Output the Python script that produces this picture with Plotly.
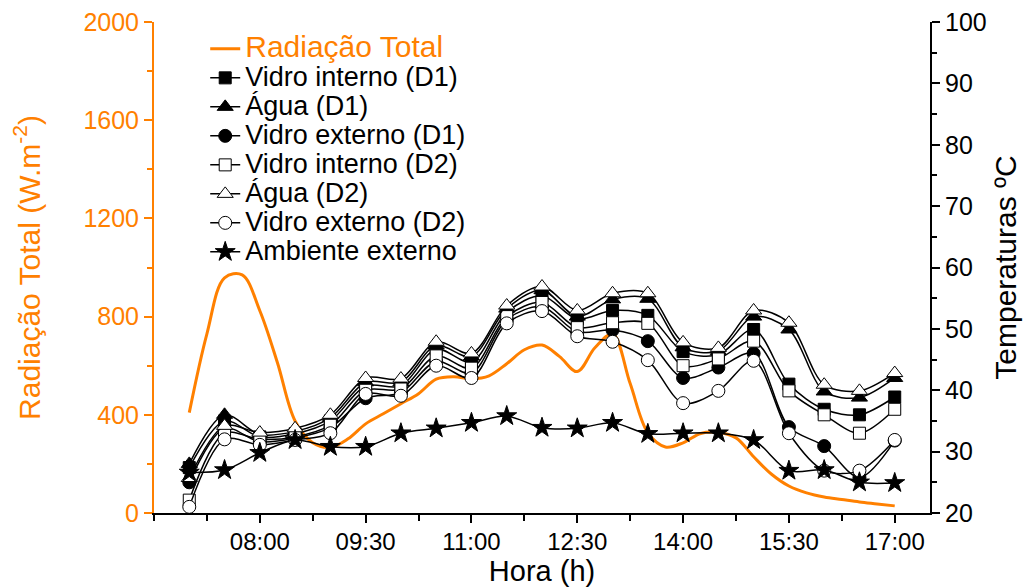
import plotly.graph_objects as go

# ---------------- data ----------------
temp_times = ["07:00", "07:30", "08:00", "08:30", "09:00", "09:30", "10:00", "10:30",
              "11:00", "11:30", "12:00", "12:30", "13:00", "13:30", "14:00", "14:30",
              "15:00", "15:30", "16:00", "16:30", "17:00"]

vidro_interno_d1 = [27.4, 35.0, 32.4, 32.9, 35.0, 40.7, 40.7, 46.7, 44.6, 52.7, 55.4,
                    51.6, 53.0, 52.2, 46.3, 45.8, 49.9, 41.0, 36.9, 36.0, 38.9]
agua_d1 = [28.0, 36.0, 32.8, 33.3, 35.5, 41.3, 41.3, 47.3, 45.5, 53.3, 56.3,
           52.0, 54.8, 54.9, 47.0, 46.4, 52.0, 49.9, 39.8, 38.8, 42.0]
vidro_externo_d1 = [25.0, 33.8, 31.6, 32.2, 33.9, 38.7, 39.6, 44.7, 42.8, 51.5, 53.6,
                    49.5, 49.8, 48.0, 42.0, 43.7, 46.0, 34.0, 30.9, 25.8, 31.8]
vidro_interno_d2 = [22.1, 33.0, 32.0, 32.4, 34.3, 40.0, 40.2, 45.6, 43.6, 52.0, 54.3,
                    50.2, 51.0, 50.9, 44.0, 45.1, 48.0, 39.9, 36.0, 33.0, 36.9]
agua_d2 = [25.7, 34.2, 33.1, 33.8, 36.0, 42.0, 41.9, 47.9, 46.0, 53.8, 56.9,
           53.0, 55.8, 55.8, 47.8, 46.9, 53.0, 51.0, 40.9, 39.9, 42.8]
vidro_externo_d2 = [21.0, 32.0, 31.1, 31.9, 33.0, 39.4, 39.1, 44.0, 42.0, 50.9, 52.9,
                    48.8, 47.9, 44.9, 37.9, 39.9, 44.8, 33.0, 26.9, 26.9, 31.9]
ambiente_externo = [26.6, 27.0, 29.8, 31.9, 30.8, 30.8, 33.0, 33.8, 34.7, 35.8, 33.9,
                    33.8, 34.7, 32.9, 33.0, 33.0, 31.9, 26.9, 27.0, 25.0, 24.9]

rad_times = ["07:00", "07:15", "07:30", "07:45", "08:00", "08:15", "08:30", "08:45",
             "09:00", "09:15", "09:30", "09:45", "10:00", "10:15", "10:30", "10:45",
             "11:00", "11:15", "11:30", "11:45", "12:00", "12:15", "12:30", "12:45",
             "13:00", "13:15", "13:30", "13:45", "14:00", "14:15", "14:30", "14:45",
             "15:00", "15:15", "15:30", "15:45", "16:00", "16:15", "16:30", "16:45",
             "17:00"]
radiacao_total = [409, 730, 958, 970, 824, 612, 375, 286, 267, 302, 363, 404, 445, 486,
                  545, 555, 547, 559, 608, 665, 684, 637, 576, 673, 729, 527, 327, 269,
                  286, 324, 328, 306, 229, 159, 110, 82, 65, 55, 45, 37, 29]

x_tick_labels = ["08:00", "09:30", "11:00", "12:30", "14:00", "15:30", "17:00"]


def to_hours(t):
    h, m = t.split(":")
    return int(h) + int(m) / 60.0


tx = [to_hours(t) for t in temp_times]
rx = [to_hours(t) for t in rad_times]
tick_hours = [to_hours(t) for t in x_tick_labels]

ORANGE = "#FF8000"
FONT = "Liberation Sans, Arial, sans-serif"


def big(txt, size=27, color=None):
    style = "font-size:%dpx" % size
    if color:
        style += ";color:%s" % color
    return '<span style="%s">%s</span>' % (style, txt)


fig = go.Figure()

fig.add_trace(go.Scatter(
    x=rx, y=radiacao_total, mode="lines", yaxis="y", xaxis="x",
    name=big("Radiação Total", 30, ORANGE),
    line=dict(color=ORANGE, width=3, shape="spline", smoothing=1.0)))

series = [
    ("Vidro interno (D1)", vidro_interno_d1, "square", "black", 12),
    ("Água (D1)", agua_d1, "triangle-up", "black", 14),
    ("Vidro externo (D1)", vidro_externo_d1, "circle", "black", 13),
    ("Vidro interno (D2)", vidro_interno_d2, "square", "white", 12),
    ("Água (D2)", agua_d2, "triangle-up", "white", 14),
    ("Vidro externo (D2)", vidro_externo_d2, "circle", "white", 13),
    ("Ambiente externo", ambiente_externo, "star", "black", 15),
]
for name, vals, sym, fill, size in series:
    fig.add_trace(go.Scatter(
        x=tx, y=vals, mode="lines+markers", yaxis="y2", xaxis="x", name=big(name),
        line=dict(color="black", width=1.5, shape="spline", smoothing=0.9),
        marker=dict(symbol=sym, size=size, color=fill,
                    line=dict(color="black", width=1))))

# page body adds an 8px offset; the figure is sized so the plot frame lands where
# the reference has it
fig.update_layout(
    width=1025, height=579,
    margin=dict(l=146, r=103, t=14, b=74, autoexpand=False),
    paper_bgcolor="white", plot_bgcolor="white",
    font=dict(family=FONT, size=25, color="black"),
    showlegend=True,
    legend=dict(x=0.066, y=0.985, xanchor="left", yanchor="top",
                bgcolor="rgba(0,0,0,0)", font=dict(size=20, family=FONT),
                tracegroupgap=0, itemwidth=30),
    xaxis=dict(
        range=[6.5, 17.5], tickmode="array",
        tickvals=tick_hours, ticktext=x_tick_labels, automargin=False,
        ticklabeloverflow="allow", ticklabelstandoff=-2,
        ticks="outside", ticklen=8, tickwidth=1.5, tickcolor="black",
        showline=True, linecolor="black", linewidth=2,
        showgrid=False, zeroline=False,
        tickfont=dict(size=24, color="black"),
        minor=dict(tick0=6.5, dtick=0.75, ticks="outside", ticklen=6,
                   tickwidth=1.5, tickcolor="black", showgrid=False),
        title=dict(text="Hora (h)", font=dict(size=29, color="black"), standoff=8),
    ),
    xaxis2=dict(
        range=[6.5, 17.5], overlaying="x", side="top", automargin=False,
        tickmode="array", tickvals=tick_hours,
        showticklabels=False, ticks="inside", ticklen=8, tickwidth=1.5,
        tickcolor="black", showline=True, linecolor="black", linewidth=2,
        showgrid=False, zeroline=False,
        minor=dict(tick0=6.5, dtick=0.75, ticks="inside", ticklen=6,
                   tickwidth=1.5, tickcolor="black", showgrid=False),
    ),
    yaxis=dict(
        range=[0, 2000], tickmode="linear", tick0=0, dtick=400, automargin=False,
        ticklabeloverflow="allow",
        ticks="outside", ticklen=8, tickwidth=1.5, tickcolor=ORANGE,
        showline=True, linecolor=ORANGE, linewidth=2,
        showgrid=False, zeroline=False,
        tickfont=dict(size=25, color=ORANGE),
        minor=dict(dtick=200, ticks="outside", ticklen=5, tickwidth=1.5,
                   tickcolor=ORANGE, showgrid=False),
        title=dict(text="Radiação Total (W.m<sup>-2</sup>)",
                   font=dict(size=30, color=ORANGE), standoff=36),
    ),
    yaxis2=dict(
        range=[20, 100], overlaying="y", side="right", automargin=False,
        ticklabeloverflow="allow",
        tickmode="linear", tick0=20, dtick=10,
        ticks="outside", ticklen=8, tickwidth=1.5, tickcolor="black",
        showline=True, linecolor="black", linewidth=2,
        showgrid=False, zeroline=False,
        tickfont=dict(size=25, color="black"),
        minor=dict(dtick=5, ticks="outside", ticklen=5, tickwidth=1.5,
                   tickcolor="black", showgrid=False),
        title=dict(text="Temperaturas ºC", font=dict(size=30, color="black"),
                   standoff=9),
    ),
)

fig.write_html("out.html")
